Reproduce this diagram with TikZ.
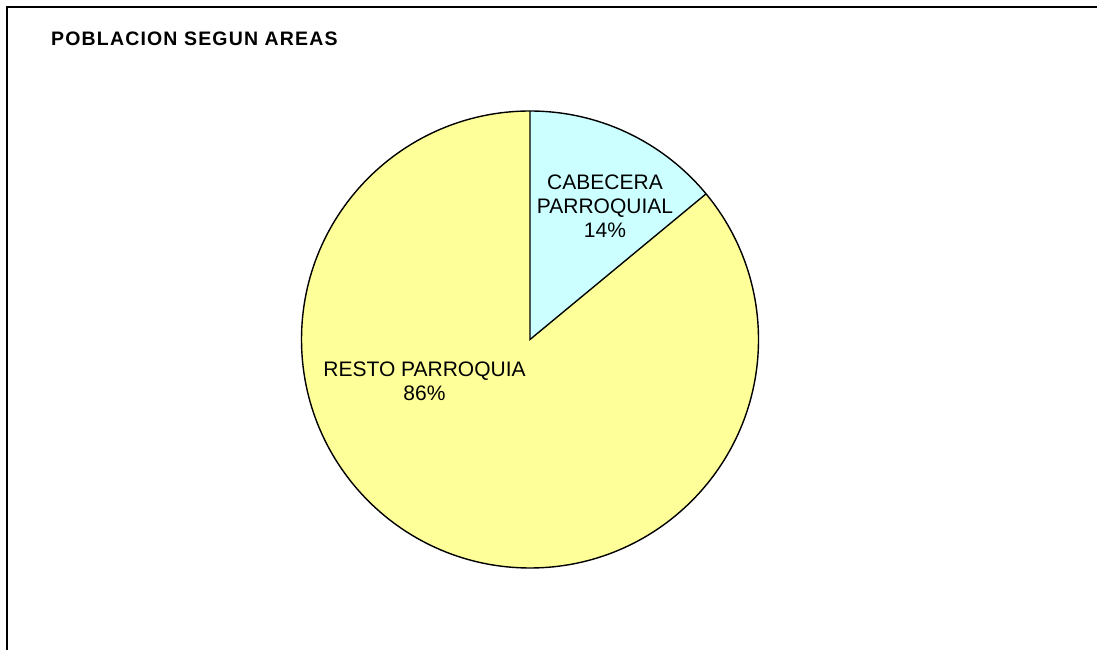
\documentclass[tikz,border=0pt]{standalone}
\usepackage{fontspec}
\setmainfont{Liberation Sans}
\usetikzlibrary{calc}
\definecolor{pieyellow}{HTML}{FFFF99}
\definecolor{piecyan}{HTML}{CCFFFF}
\begin{document}
\begin{tikzpicture}[x=1pt,y=1pt,
  titletext/.style={anchor=base west,inner sep=0pt,font=\fontsize{19.5}{23}\selectfont\bfseries\addfontfeature{LetterSpace=6}},
  slicelabel/.style={align=center,inner sep=0pt,font=\fontsize{21}{24}\selectfont},
  pieedge/.style={draw=black,line width=1.4pt}]
\useasboundingbox (0,0) rectangle (1097,650);
\fill[white] (0,0) rectangle (1097,650);
% frame
\coordinate (fbl) at (7,0);
\coordinate (ftl) at (7,643);
\coordinate (ftr) at (1097,643);
\draw[line width=1.8pt] (fbl) -- (ftl) -- (ftr);
% pie
\coordinate (c) at (530,310.5);
\def\R{228.5}
\fill[pieyellow] (c) circle[radius=\R];
\fill[piecyan] (c) -- ++(39.6:\R) arc[start angle=39.6,end angle=90,radius=\R] -- cycle;
\draw[pieedge] (c) circle[radius=\R];
\coordinate (ptop) at ($(c)+(90:\R)$);
\coordinate (pcut) at ($(c)+(39.6:\R)$);
\draw[pieedge] (ptop) -- (c) -- (pcut);
% labels
\node[titletext] (title) at (51,604) {POBLACION SEGUN AREAS};
\node[slicelabel] (cab) at (605,444) {CABECERA\\PARROQUIAL\\14\%};
\node[slicelabel] (resto) at (424.5,268.5) {RESTO PARROQUIA\\86\%};
\end{tikzpicture}
\end{document}
